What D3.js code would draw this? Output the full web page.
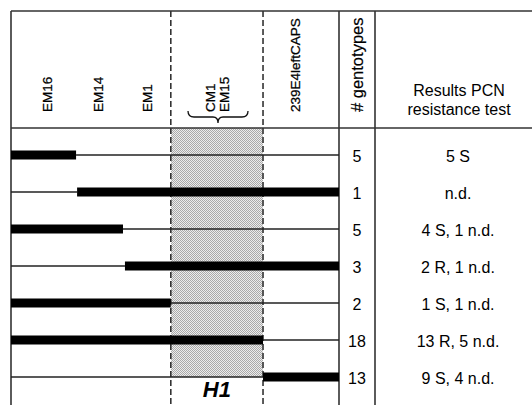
<!DOCTYPE html>
<html><head><meta charset="utf-8">
<script src="https://cdn.jsdelivr.net/npm/d3@7"></script>
<style>
html,body{margin:0;padding:0;background:#fff;}
svg{display:block;}
text{font-family:"Liberation Sans",Arial,Helvetica,sans-serif;fill:#000;}
</style></head>
<body>
<svg id="chart" width="532" height="405"></svg>
<script>
// ---- data ----
// marker positions along the map (units: 0 = left end, 6 = right end)
const markers = ["EM16", "EM14", "EM1", "239E4leftCAPS"];
const markerPos = [1, 2, 3, 5];
const h1Markers = ["CM1", "EM15"];
const h1MarkerPos = [3.9, 4.09];
const h1Bounds = [3.34, 4.59];
// recombination breakpoint per genotype group and which side is introgressed (thick)
const breakpoints = [1.57, 1.59, 2.51, 2.55, 3.34, 4.59, 4.59];
const leftSegment = ["thick", "thin", "thick", "thin", "thick", "thick", "thin"];
const genotypes = [5, 1, 5, 3, 2, 18, 13];
const results = ["5 S", "n.d.", "4 S, 1 n.d.", "2 R, 1 n.d.", "1 S, 1 n.d.", "13 R, 5 n.d.", "9 S, 4 n.d."];
const headerRight = ["Results PCN", "resistance test"];

// ---- layout ----
const svg = d3.select("#chart");
const x = d3.scaleLinear().domain([0, 1, 2, 3, 4, 5, 6]).range([11, 47, 98, 147, 217, 295, 339]);
const y = d3.scalePoint().domain(d3.range(genotypes.length)).range([155, 377]);
const frameTop = 11, headBot = 128, frameBottom = 405;
const colGen = 375, frameRight = 532;
const lineCol = "#333";

// pattern for H1 shading
const defs = svg.append("defs");
const pat = defs.append("pattern").attr("id", "hatch").attr("patternUnits", "userSpaceOnUse")
  .attr("width", 2).attr("height", 2);
pat.append("rect").attr("width", 2).attr("height", 2).attr("fill", "#ececec");
pat.append("rect").attr("width", 1).attr("height", 1).attr("fill", "#a9a9a9");
pat.append("rect").attr("x", 1).attr("y", 1).attr("width", 1).attr("height", 1).attr("fill", "#a9a9a9");

// shaded H1 region
svg.append("rect")
  .attr("x", x(h1Bounds[0])).attr("y", headBot)
  .attr("width", x(h1Bounds[1]) - x(h1Bounds[0]))
  .attr("height", y(genotypes.length - 1) - headBot)
  .attr("fill", "url(#hatch)").attr("shape-rendering", "crispEdges");

// frame lines
const g = svg.append("g").attr("stroke", lineCol).attr("stroke-width", 1.6).attr("fill", "none");
g.append("line").attr("x1", x(0)).attr("x2", frameRight).attr("y1", frameTop).attr("y2", frameTop);
g.append("line").attr("x1", x(0)).attr("x2", frameRight).attr("y1", headBot).attr("y2", headBot);
g.append("line").attr("x1", x(0)).attr("x2", x(0)).attr("y1", frameTop).attr("y2", frameBottom);
g.append("line").attr("x1", x(6)).attr("x2", x(6)).attr("y1", frameTop).attr("y2", frameBottom);
g.append("line").attr("x1", colGen).attr("x2", colGen).attr("y1", frameTop).attr("y2", frameBottom);
g.selectAll("line.dash").data(h1Bounds).join("line").attr("class", "dash")
  .attr("x1", d => x(d)).attr("x2", d => x(d)).attr("y1", frameTop).attr("y2", frameBottom)
  .attr("stroke-dasharray", "6,3");

// header labels (rotated)
const labelBottom = 112;
svg.selectAll("text.mk").data(markers).join("text").attr("class", "mk")
  .attr("transform", (d, i) => `translate(${x(markerPos[i])},${labelBottom}) rotate(-90)`)
  .attr("dy", "0.36em").attr("font-size", 13.5).attr("stroke", "#000").attr("stroke-width", 0.25).text(d => d);
svg.selectAll("text.h1mk").data(h1Markers).join("text").attr("class", "h1mk")
  .attr("transform", (d, i) => `translate(${x(h1MarkerPos[i])},${labelBottom}) rotate(-90)`)
  .attr("dy", "0.36em").attr("font-size", 13.5).attr("stroke", "#000").attr("stroke-width", 0.25).text(d => d);

// brace under CM1/EM15
const bx0 = 188, bx1 = 248, bxm = (bx0 + bx1) / 2, by0 = 111, by1 = 117, by2 = 123;
svg.append("path")
  .attr("d", `M${bx0},${by0} Q${bx0},${by1} ${bx0 + 6},${by1} L${bxm - 5},${by1} Q${bxm},${by1} ${bxm},${by2} Q${bxm},${by1} ${bxm + 5},${by1} L${bx1 - 6},${by1} Q${bx1},${by1} ${bx1},${by0}`)
  .attr("fill", "none").attr("stroke", "#111").attr("stroke-width", 1.3);

svg.append("text")
  .attr("transform", `translate(${(x(6) + colGen) / 2},${labelBottom}) rotate(-90)`)
  .attr("dy", "0.36em").attr("font-size", 16.5).attr("stroke", "#000").attr("stroke-width", 0.2).text("# gentotypes");
svg.selectAll("text.hr").data(headerRight).join("text").attr("class", "hr")
  .attr("x", 459).attr("y", (d, i) => 96 + i * 18.5)
  .attr("text-anchor", "middle").attr("font-size", 16).text(d => d);

// rows
const rows = svg.selectAll("g.row").data(genotypes).join("g").attr("class", "row");
rows.each(function (d, i) {
  const r = d3.select(this);
  const yy = y(i);
  const segs = [
    { a: 0, b: breakpoints[i], t: leftSegment[i] },
    { a: breakpoints[i], b: 6, t: leftSegment[i] === "thick" ? "thin" : "thick" }
  ];
  segs.filter(s => s.t === "thin").forEach(s => {
    r.append("line").attr("x1", x(s.a)).attr("x2", x(s.b)).attr("y1", yy).attr("y2", yy)
      .attr("stroke", "#222").attr("stroke-width", 1.3);
  });
  segs.filter(s => s.t === "thick").forEach(s => {
    r.append("rect").attr("x", x(s.a)).attr("y", yy - 4.5)
      .attr("width", x(s.b) - x(s.a)).attr("height", 9).attr("fill", "#000");
  });
  r.append("text").attr("x", (x(6) + colGen) / 2).attr("y", yy + 1).attr("dy", "0.36em")
    .attr("text-anchor", "middle").attr("font-size", 16).text(d);
  r.append("text").attr("x", 458).attr("y", yy + 1).attr("dy", "0.36em")
    .attr("text-anchor", "middle").attr("font-size", 16).text(results[i]);
});

// H1 label
svg.append("text").attr("x", (x(h1Bounds[0]) + x(h1Bounds[1])) / 2).attr("y", 397)
  .attr("text-anchor", "middle").attr("font-size", 22).attr("font-weight", "bold")
  .attr("font-style", "italic").text("H1");
</script>
</body></html>
